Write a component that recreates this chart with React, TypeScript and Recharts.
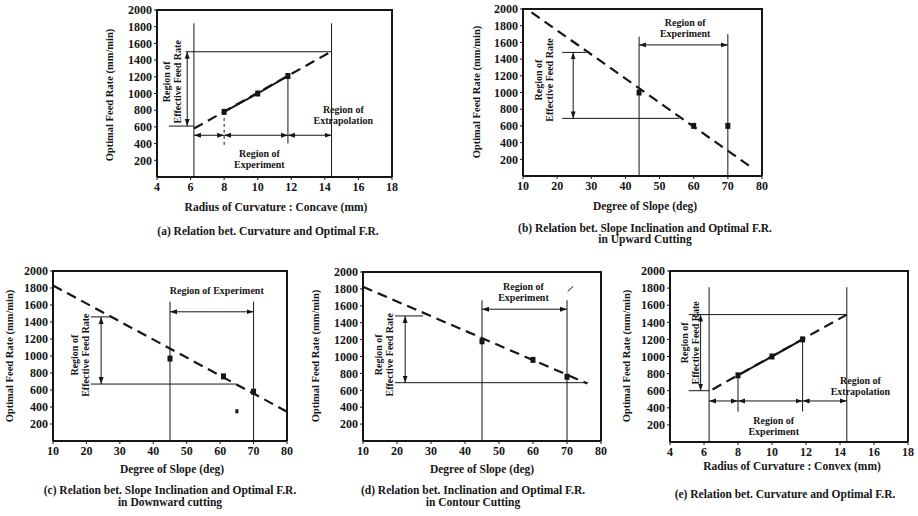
import React from 'react'
import { ComposedChart, Line, Scatter, XAxis, YAxis, CartesianGrid, ReferenceDot } from 'recharts'

// Five small panels: optimal feed rate vs. curvature / slope, with the
// "region of experiment" and "region of effective feed rate" annotations.

type Pt = { x: number; y: number }
type Note = { x: number; y: number; lines: string[]; rotate?: boolean }

const rateDomain: [number, number] = [0, 2000]
const rateTicks = [200, 400, 600, 800, 1000, 1200, 1400, 1600, 1800, 2000]
const curvatureDomain: [number, number] = [4, 18]
const curvatureTicks = [4, 6, 8, 10, 12, 14, 16, 18]
const slopeDomain: [number, number] = [10, 80]
const slopeTicks = [10, 20, 30, 40, 50, 60, 70, 80]

// (a) concave curvature
const aMeasured: Pt[] = [{ x: 8, y: 780 }, { x: 10, y: 1000 }, { x: 11.8, y: 1210 }]
const aTrend: Pt[] = [{ x: 6.2, y: 580 }, { x: 14.4, y: 1505 }]
const aLines: Pt[][] = [
  [{ x: 5.7, y: 1500 }, { x: 14.4, y: 1500 }],
  [{ x: 4.7, y: 610 }, { x: 6.2, y: 610 }],
  [{ x: 6.2, y: 1840 }, { x: 6.2, y: 0 }],
  [{ x: 14.4, y: 1840 }, { x: 14.4, y: 0 }],
  [{ x: 11.8, y: 1210 }, { x: 11.8, y: 400 }],
]
const aDashedLines: Pt[][] = [[{ x: 8, y: 780 }, { x: 8, y: 370 }]]
const aArrows: Pt[][] = [
  [{ x: 5.8, y: 1500 }, { x: 5.8, y: 610 }],
  [{ x: 6.2, y: 500 }, { x: 8, y: 500 }],
  [{ x: 8, y: 500 }, { x: 11.8, y: 500 }],
  [{ x: 11.8, y: 500 }, { x: 14.4, y: 500 }],
]
const aNotes: Note[] = [
  { x: 10.1, y: 220, lines: ['Region of', 'Experiment'] },
  { x: 15.1, y: 740, lines: ['Region of', 'Extrapolation'] },
  { x: 4.9, y: 1140, lines: ['Region of', 'Effective Feed Rate'], rotate: true },
]

// (b) upward cutting
const bMeasured: Pt[] = [{ x: 44, y: 1000 }, { x: 60, y: 600 }, { x: 70, y: 600 }]
const bTrend: Pt[] = [{ x: 12.5, y: 1960 }, { x: 77, y: 100 }]
const bLines: Pt[][] = [
  [{ x: 21.5, y: 1480 }, { x: 28.5, y: 1480 }],
  [{ x: 21.5, y: 690 }, { x: 55.7, y: 690 }],
  [{ x: 44, y: 1670 }, { x: 44, y: 0 }],
  [{ x: 70, y: 1700 }, { x: 70, y: 0 }],
]
const bArrows: Pt[][] = [
  [{ x: 24.7, y: 1480 }, { x: 24.7, y: 690 }],
  [{ x: 44, y: 1570 }, { x: 70, y: 1570 }],
]
const bNotes: Note[] = [
  { x: 57.5, y: 1770, lines: ['Region of', 'Experiment'] },
  { x: 16.2, y: 1150, lines: ['Region of', 'Effective Feed Rate'], rotate: true },
]

// (c) downward cutting
const cMeasured: Pt[] = [{ x: 45, y: 970 }, { x: 61, y: 760 }, { x: 70, y: 580 }]
const cStray: Pt[] = [{ x: 65, y: 350 }]
const cTrend: Pt[] = [{ x: 10, y: 1830 }, { x: 80, y: 345 }]
const cLines: Pt[][] = [
  [{ x: 21.3, y: 1460 }, { x: 27, y: 1460 }],
  [{ x: 21.3, y: 670 }, { x: 64.7, y: 670 }],
  [{ x: 45, y: 1640 }, { x: 45, y: 0 }],
  [{ x: 70, y: 1640 }, { x: 70, y: 0 }],
]
const cArrows: Pt[][] = [
  [{ x: 24.4, y: 1460 }, { x: 24.4, y: 670 }],
  [{ x: 45, y: 1520 }, { x: 70, y: 1520 }],
]
const cNotes: Note[] = [
  { x: 59, y: 1776, lines: ['Region of  Experiment'] },
  { x: 18.1, y: 1010, lines: ['Region of', 'Effective Feed Rate'], rotate: true },
]

// (d) contour cutting
const dMeasured: Pt[] = [{ x: 45, y: 1180 }, { x: 60, y: 960 }, { x: 70, y: 760 }]
const dTrend: Pt[] = [{ x: 10, y: 1825 }, { x: 76, y: 680 }]
const dLines: Pt[][] = [
  [{ x: 19.4, y: 1480 }, { x: 27.7, y: 1480 }],
  [{ x: 19.4, y: 690 }, { x: 76.2, y: 690 }],
  [{ x: 45, y: 1665 }, { x: 45, y: 0 }],
  [{ x: 70, y: 1665 }, { x: 70, y: 0 }],
  [{ x: 70.2, y: 1770 }, { x: 71.8, y: 1830 }],
]
const dArrows: Pt[][] = [
  [{ x: 22.4, y: 1480 }, { x: 22.4, y: 690 }],
  [{ x: 45, y: 1560 }, { x: 70, y: 1560 }],
]
const dNotes: Note[] = [
  { x: 57.2, y: 1760, lines: ['Region of', 'Experiment'] },
  { x: 16.1, y: 1020, lines: ['Region of', 'Effective Feed Rate'], rotate: true },
]

// (e) convex curvature
const eMeasured: Pt[] = [{ x: 8, y: 780 }, { x: 10, y: 1000 }, { x: 11.8, y: 1200 }]
const eTrend: Pt[] = [{ x: 6.5, y: 615 }, { x: 14.4, y: 1490 }]
const eLines: Pt[][] = [
  [{ x: 5.1, y: 1490 }, { x: 14.4, y: 1490 }],
  [{ x: 5.1, y: 600 }, { x: 6.3, y: 600 }],
  [{ x: 6.3, y: 1810 }, { x: 6.3, y: 0 }],
  [{ x: 14.4, y: 1810 }, { x: 14.4, y: 0 }],
  [{ x: 8, y: 780 }, { x: 8, y: 355 }],
  [{ x: 11.8, y: 1200 }, { x: 11.8, y: 355 }],
]
const eArrows: Pt[][] = [
  [{ x: 5.8, y: 1490 }, { x: 5.8, y: 600 }],
  [{ x: 6.3, y: 480 }, { x: 8, y: 480 }],
  [{ x: 8, y: 480 }, { x: 11.8, y: 480 }],
  [{ x: 11.8, y: 480 }, { x: 14.4, y: 480 }],
]
const eNotes: Note[] = [
  { x: 10.1, y: 190, lines: ['Region of', 'Experiment'] },
  { x: 15.2, y: 660, lines: ['Region of', 'Extrapolation'] },
  { x: 5.15, y: 1160, lines: ['Region of', 'Effective Feed Rate'], rotate: true },
]

const yTitle = 'Optimal Feed Rate (mm/min)'
const slopeTitle = 'Degree of Slope (deg)'

const INK = '#161616'
const FONT = "'Liberation Serif', 'DejaVu Serif', serif"

type PanelCfg = {
  box: [number, number, number, number]
  xDomain: [number, number]
  xTicks: number[]
  measured: Pt[]
  joined?: boolean
  trend: Pt[]
  lines: Pt[][]
  dashedLines?: Pt[][]
  arrows: Pt[][]
  stray?: Pt[]
  notes: Note[]
}

const panels: PanelCfg[] = [
  { box: [157, 10, 235, 167], xDomain: curvatureDomain, xTicks: curvatureTicks, measured: aMeasured, joined: true, trend: aTrend, lines: aLines, dashedLines: aDashedLines, arrows: aArrows, notes: aNotes },
  { box: [523, 9, 239, 167], xDomain: slopeDomain, xTicks: slopeTicks, measured: bMeasured, trend: bTrend, lines: bLines, arrows: bArrows, notes: bNotes },
  { box: [53, 271, 234, 170], xDomain: slopeDomain, xTicks: slopeTicks, measured: cMeasured, trend: cTrend, lines: cLines, arrows: cArrows, stray: cStray, notes: cNotes },
  { box: [363, 272, 238, 169], xDomain: slopeDomain, xTicks: slopeTicks, measured: dMeasured, trend: dTrend, lines: dLines, arrows: dArrows, notes: dNotes },
  { box: [670, 271, 238, 171], xDomain: curvatureDomain, xTicks: curvatureTicks, measured: eMeasured, joined: true, trend: eTrend, lines: eLines, arrows: eArrows, notes: eNotes },
]

// titles and captions outside the plot boxes (page pixels)
const texts: { x: number; y: number; text: string; rotate?: boolean }[] = [
  { x: 110, y: 95, text: yTitle, rotate: true },
  { x: 276, y: 208, text: 'Radius of Curvature : Concave (mm)' },
  { x: 268, y: 232, text: '(a) Relation bet. Curvature and Optimal F.R.' },
  { x: 477, y: 92, text: yTitle, rotate: true },
  { x: 645, y: 207, text: slopeTitle },
  { x: 645, y: 229, text: '(b) Relation bet. Slope Inclination and Optimal F.R.' },
  { x: 645, y: 240, text: 'in Upward Cutting' },
  { x: 10, y: 356, text: yTitle, rotate: true },
  { x: 172, y: 470, text: slopeTitle },
  { x: 170, y: 491, text: '(c) Relation bet. Slope Inclination and Optimal F.R.' },
  { x: 170, y: 503, text: 'in Downward cutting' },
  { x: 316, y: 356, text: yTitle, rotate: true },
  { x: 482, y: 470, text: slopeTitle },
  { x: 473, y: 491, text: '(d) Relation bet. Inclination and Optimal F.R.' },
  { x: 473, y: 503, text: 'in Contour Cutting' },
  { x: 627, y: 356, text: yTitle, rotate: true },
  { x: 792, y: 467, text: 'Radius of Curvature : Convex (mm)' },
  { x: 785, y: 495, text: '(e) Relation bet. Curvature and Optimal F.R.' },
]

const square = (p: any) => <rect x={p.cx - 2.5} y={p.cy - 3} width={5} height={6} fill={INK} />
const speck = (p: any) => <rect x={p.cx - 1.5} y={p.cy - 2} width={3} height={4} fill={INK} />

const noteLabel = (n: Note) => (p: any) => {
  const vb = p.viewBox
  const cx = vb.x + vb.width / 2
  const cy = vb.y + vb.height / 2
  const lh = 11
  const first = -((n.lines.length - 1) * lh) / 2
  return (
    <text x={cx} y={cy} textAnchor="middle" fill={INK} fontSize={10} fontWeight={700} fontFamily={FONT}
      transform={n.rotate ? `rotate(-90 ${cx} ${cy})` : undefined}>
      {n.lines.map((l, i) => (
        <tspan key={i} x={cx} y={cy + first + i * lh} dy="0.35em">{l}</tspan>
      ))}
    </text>
  )
}

const tick = { fill: INK, fontSize: 12, fontWeight: 700, fontFamily: FONT }
const edge = { stroke: INK, strokeWidth: 1.8 }
const tickLine = { stroke: INK }

function Panel({ cfg }: { cfg: PanelCfg }) {
  const [bx, by, bw, bh] = cfg.box
  const L = 46, T = 6, R = 6, B = 26
  const [x0, x1] = cfg.xDomain
  // box edges: left, top, right
  const frame: Pt[] = [{ x: x0, y: 0 }, { x: x0, y: 2000 }, { x: x1, y: 2000 }, { x: x1, y: 0 }]
  return (
    <div style={{ position: 'absolute', left: bx - L, top: by - T }}>
      <ComposedChart width={bw + L + R} height={bh + T + B} margin={{ top: T, right: R, bottom: 0, left: 0 }}>
        {/* grid reduced to the plot edges: it closes the box on top and right */}
        <CartesianGrid horizontalValues={[2000]} verticalValues={[x1]} stroke={INK} strokeWidth={1.8} fill="none" />
        <XAxis type="number" dataKey="x" domain={cfg.xDomain} ticks={cfg.xTicks} height={B}
          tick={tick} tickSize={3} axisLine={edge} tickLine={tickLine} interval={0} />
        <YAxis type="number" dataKey="y" domain={rateDomain} ticks={rateTicks} width={L}
          tick={tick} tickSize={3} axisLine={edge} tickLine={tickLine} interval={0} />
        <Line data={frame} dataKey="y" stroke={INK} strokeWidth={2} dot={false} activeDot={false} isAnimationActive={false} />
        <Line data={cfg.trend} dataKey="y" stroke={INK} strokeWidth={2.2} strokeDasharray="10 6" dot={false} activeDot={false} isAnimationActive={false} />
        {cfg.joined && (
          <Line data={cfg.measured} dataKey="y" stroke={INK} strokeWidth={2} dot={false} activeDot={false} isAnimationActive={false} />
        )}
        {cfg.lines.map((seg, i) => (
          <Line key={'l' + i} data={seg} dataKey="y" stroke={INK} strokeWidth={1} dot={false} activeDot={false} isAnimationActive={false} />
        ))}
        {(cfg.dashedLines ?? []).map((seg, i) => (
          <Line key={'d' + i} data={seg} dataKey="y" stroke={INK} strokeWidth={1} strokeDasharray="3 3" dot={false} activeDot={false} isAnimationActive={false} />
        ))}
        {cfg.arrows.map((seg, i) => (
          <Line key={'a' + i} data={seg} dataKey="y" stroke={INK} strokeWidth={1} dot={false} activeDot={false}
            markerStart="url(#arrowhead)" markerEnd="url(#arrowhead)" isAnimationActive={false} />
        ))}
        <Scatter data={cfg.measured} dataKey="y" shape={square} isAnimationActive={false} />
        {cfg.stray && <Scatter data={cfg.stray} dataKey="y" shape={speck} isAnimationActive={false} />}
        {cfg.notes.map((n, i) => (
          <ReferenceDot key={'n' + i} x={n.x} y={n.y} r={1} fill="none" stroke="none" ifOverflow="visible" label={noteLabel(n)} />
        ))}
      </ComposedChart>
    </div>
  )
}

export default function App() {
  return (
    <div style={{ position: 'absolute', left: 0, top: 0, width: 918, height: 516, background: '#fff', overflow: 'hidden' }}>
      <svg width={0} height={0} style={{ position: 'absolute' }}>
        <defs>
          <marker id="arrowhead" viewBox="0 0 10 10" refX="10" refY="5" markerWidth="7" markerHeight="7"
            markerUnits="userSpaceOnUse" orient="auto-start-reverse">
            <path d="M0,1.5 L10,5 L0,8.5 z" fill={INK} />
          </marker>
        </defs>
      </svg>
      {panels.map((p, i) => <Panel key={i} cfg={p} />)}
      {texts.map((t, i) => (
        <div key={i} style={{
          position: 'absolute', left: t.x, top: t.y, transform: `translate(-50%, -50%)${t.rotate ? ' rotate(-90deg)' : ''}`,
          fontFamily: FONT, fontWeight: 700, fontSize: t.rotate ? 10.5 : 11.5, color: INK, whiteSpace: 'nowrap', lineHeight: 1,
        }}>{t.text}</div>
      ))}
    </div>
  )
}
